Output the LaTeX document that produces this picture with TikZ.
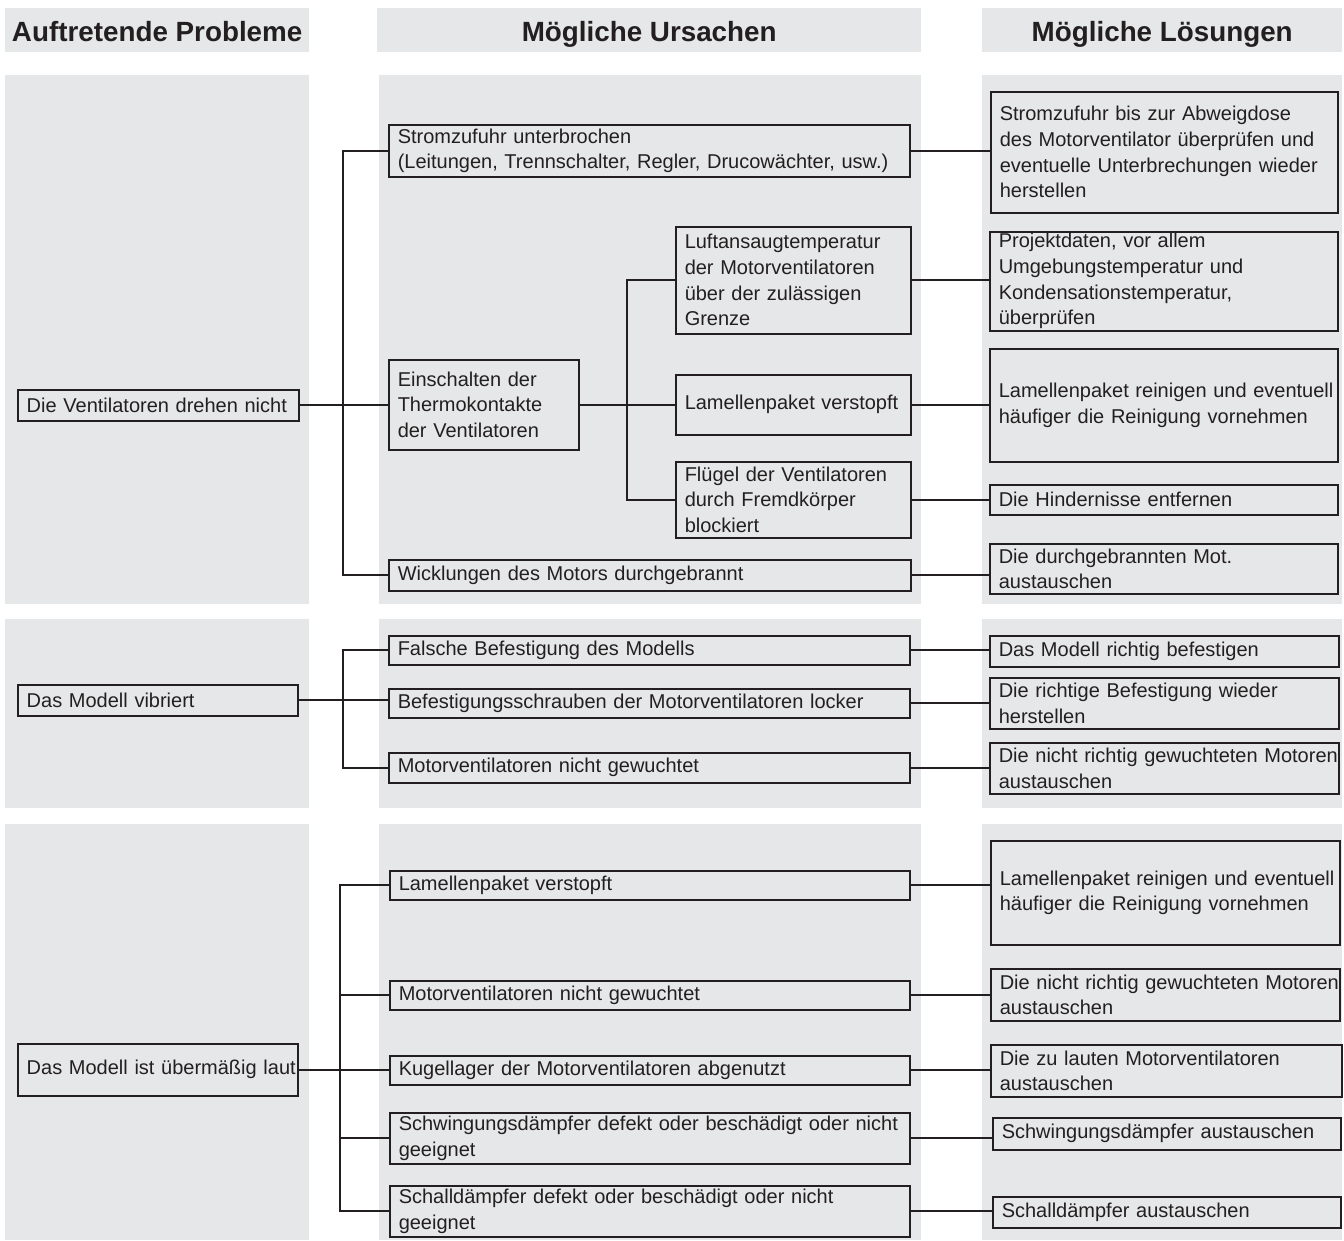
\documentclass[tikz,border=0pt]{standalone}
\usepackage{fontspec}
\setmainfont{Liberation Sans}
\definecolor{panelgray}{HTML}{E6E7E8}
\definecolor{linecol}{HTML}{231F20}
\definecolor{textcol}{HTML}{231F20}
\newcommand\one[1]{\mbox{#1}}
\begin{document}
\begin{tikzpicture}[x=1pt,y=-1pt,
  bx/.style={draw=linecol, line width=1.5pt, anchor=north west, align=left,
    inner xsep=9pt, inner ysep=0pt, font=\fontsize{20}{25.7}\selectfont, text=textcol},
  conn/.style={draw=linecol, line width=1.8pt},
  hdr/.style={fill=panelgray, anchor=north west, inner sep=0pt, text height=27pt, text depth=5pt,
    font=\fontsize{27.8}{30}\selectfont\bfseries, text=textcol}]
\useasboundingbox[fill=white] (0,0) rectangle (1344,1240);

% header panels
\node[hdr, minimum width=304pt, minimum height=44pt] (h1) at (5,8) {Auftretende Probleme};
\node[hdr, minimum width=544pt, minimum height=44pt] (h2) at (377,8) {Mögliche Ursachen};
\node[hdr, minimum width=360pt, minimum height=44pt] (h3) at (982,8) {Mögliche Lösungen};

% body panels
\fill[panelgray] (5,75) rectangle (309,604);
\fill[panelgray] (379,75) rectangle (921,604);
\fill[panelgray] (982,75) rectangle (1342,604);
\fill[panelgray] (5,619) rectangle (309,808);
\fill[panelgray] (379,619) rectangle (921,808);
\fill[panelgray] (982,619) rectangle (1342,808);
\fill[panelgray] (5,824) rectangle (309,1240);
\fill[panelgray] (379,824) rectangle (921,1240);
\fill[panelgray] (982,824) rectangle (1342,1240);

\coordinate (t1) at (343,0);
\coordinate (t2) at (627,0);
\coordinate (t3) at (340,0);

% ---------- section 1
\node[bx, text width=263pt, minimum height=31pt] (P1) at (17,389) {\one{Die Ventilatoren drehen nicht}};
\node[bx, text width=503pt, minimum height=52pt] (C1a) at (388,124) {\one{Stromzufuhr unterbrochen}\\\one{(Leitungen, Trennschalter, Regler, Drucowächter, usw.)}};
\node[bx, text width=172pt, minimum height=90pt] (C1b) at (388,359) {\one{Einschalten der}\\\one{Thermokontakte}\\\one{der Ventilatoren}};
\node[bx, text width=217pt, minimum height=107pt] (C1b1) at (675,226) {\one{Luftansaugtemperatur}\\\one{der Motorventilatoren}\\\one{über der zulässigen}\\\one{Grenze}};
\node[bx, text width=217pt, minimum height=60pt] (C1b2) at (675,374) {\one{Lamellenpaket verstopft}};
\node[bx, text width=217pt, minimum height=76pt] (C1b3) at (675,461) {\one{Flügel der Ventilatoren}\\\one{durch Fremdkörper}\\\one{blockiert}};
\node[bx, text width=504pt, minimum height=31pt] (C1c) at (388,559) {\one{Wicklungen des Motors durchgebrannt}};
\node[bx, text width=329pt, minimum height=121pt] (S1a) at (990,91) {\one{Stromzufuhr bis zur Abweigdose}\\\one{des Motorventilator überprüfen und}\\\one{eventuelle Unterbrechungen wieder}\\\one{herstellen}};
\node[bx, text width=330pt, minimum height=99pt] (S1b1) at (989,231) {\one{Projektdaten, vor allem}\\\one{Umgebungstemperatur und}\\\one{Kondensationstemperatur,}\\\one{überprüfen}};
\node[bx, text width=330pt, minimum height=113pt] (S1b2) at (989,348) {\one{Lamellenpaket reinigen und eventuell}\\\one{häufiger die Reinigung vornehmen}};
\node[bx, text width=330pt, minimum height=30pt] (S1b3) at (989,484) {\one{Die Hindernisse entfernen}};
\node[bx, text width=330pt, minimum height=50pt] (S1c) at (989,543) {\one{Die durchgebrannten Mot.}\\\one{austauschen}};

\draw[conn] (P1.east) -- (P1.east -| C1b.west);
\draw[conn] (C1a.west) -| (t1 |- C1c.west) -- (C1c.west);
\draw[conn] (C1b.east) -- (C1b.east -| C1b2.west);
\draw[conn] (C1b1.west) -| (t2 |- C1b3.west) -- (C1b3.west);
\draw[conn] (C1a.east) -- (C1a.east -| S1a.west);
\draw[conn] (C1b1.east) -- (C1b1.east -| S1b1.west);
\draw[conn] (C1b2.east) -- (C1b2.east -| S1b2.west);
\draw[conn] (C1b3.east) -- (C1b3.east -| S1b3.west);
\draw[conn] (C1c.east) -- (C1c.east -| S1c.west);

% ---------- section 2
\node[bx, text width=262pt, minimum height=31pt] (P2) at (17,684) {\one{Das Modell vibriert}};
\node[bx, text width=503pt, minimum height=29pt] (C2a) at (388,635) {\one{Falsche Befestigung des Modells}};
\node[bx, text width=503pt, minimum height=29pt] (C2b) at (388,688) {\one{Befestigungsschrauben der Motorventilatoren locker}};
\node[bx, text width=503pt, minimum height=30pt] (C2c) at (388,752) {\one{Motorventilatoren nicht gewuchtet}};
\node[bx, text width=331pt, minimum height=31pt] (S2a) at (989,635) {\one{Das Modell richtig befestigen}};
\node[bx, text width=331pt, minimum height=51pt] (S2b) at (989,677) {\one{Die richtige Befestigung wieder}\\\one{herstellen}};
\node[bx, text width=331pt, minimum height=51pt] (S2c) at (989,742) {\one{Die nicht richtig gewuchteten Motoren}\\\one{austauschen}};

\draw[conn] (P2.east) -- (P2.east -| C2b.west);
\draw[conn] (C2a.west) -| (t1 |- C2c.west) -- (C2c.west);
\draw[conn] (C2a.east) -- (C2a.east -| S2a.west);
\draw[conn] (C2b.east) -- (C2b.east -| S2b.west);
\draw[conn] (C2c.east) -- (C2c.east -| S2c.west);

% ---------- section 3
\node[bx, text width=262pt, minimum height=52pt] (P3) at (17,1043) {\one{Das Modell ist übermäßig laut}};
\node[bx, text width=502pt, minimum height=29pt] (C3a) at (389,870) {\one{Lamellenpaket verstopft}};
\node[bx, text width=502pt, minimum height=29pt] (C3b) at (389,980) {\one{Motorventilatoren nicht gewuchtet}};
\node[bx, text width=502pt, minimum height=29pt] (C3c) at (389,1055) {\one{Kugellager der Motorventilatoren abgenutzt}};
\node[bx, text width=502pt, minimum height=51pt] (C3d) at (389,1112) {\one{Schwingungsdämpfer defekt oder beschädigt oder nicht}\\\one{geeignet}};
\node[bx, text width=502pt, minimum height=51pt] (C3e) at (389,1185) {\one{Schalldämpfer defekt oder beschädigt oder nicht}\\\one{geeignet}};
\node[bx, text width=331pt, minimum height=104pt] (S3a) at (990,840) {\one{Lamellenpaket reinigen und eventuell}\\\one{häufiger die Reinigung vornehmen}};
\node[bx, text width=331pt, minimum height=52pt] (S3b) at (990,968) {\one{Die nicht richtig gewuchteten Motoren}\\\one{austauschen}};
\node[bx, text width=333pt, minimum height=52pt] (S3c) at (990,1044) {\one{Die zu lauten Motorventilatoren}\\\one{austauschen}};
\node[bx, text width=330pt, minimum height=32pt] (S3d) at (992,1117) {\one{Schwingungsdämpfer austauschen}};
\node[bx, text width=330pt, minimum height=31pt] (S3e) at (992,1196) {\one{Schalldämpfer austauschen}};

\draw[conn] (P3.east) -- (P3.east -| C3c.west);
\draw[conn] (C3a.west) -| (t3 |- C3e.west) -- (C3e.west);
\draw[conn] (C3b.west) -- (t3 |- C3b.west);
\draw[conn] (C3d.west) -- (t3 |- C3d.west);
\draw[conn] (C3a.east) -- (C3a.east -| S3a.west);
\draw[conn] (C3b.east) -- (C3b.east -| S3b.west);
\draw[conn] (C3c.east) -- (C3c.east -| S3c.west);
\draw[conn] (C3d.east) -- (C3d.east -| S3d.west);
\draw[conn] (C3e.east) -- (C3e.east -| S3e.west);
\end{tikzpicture}
\end{document}
